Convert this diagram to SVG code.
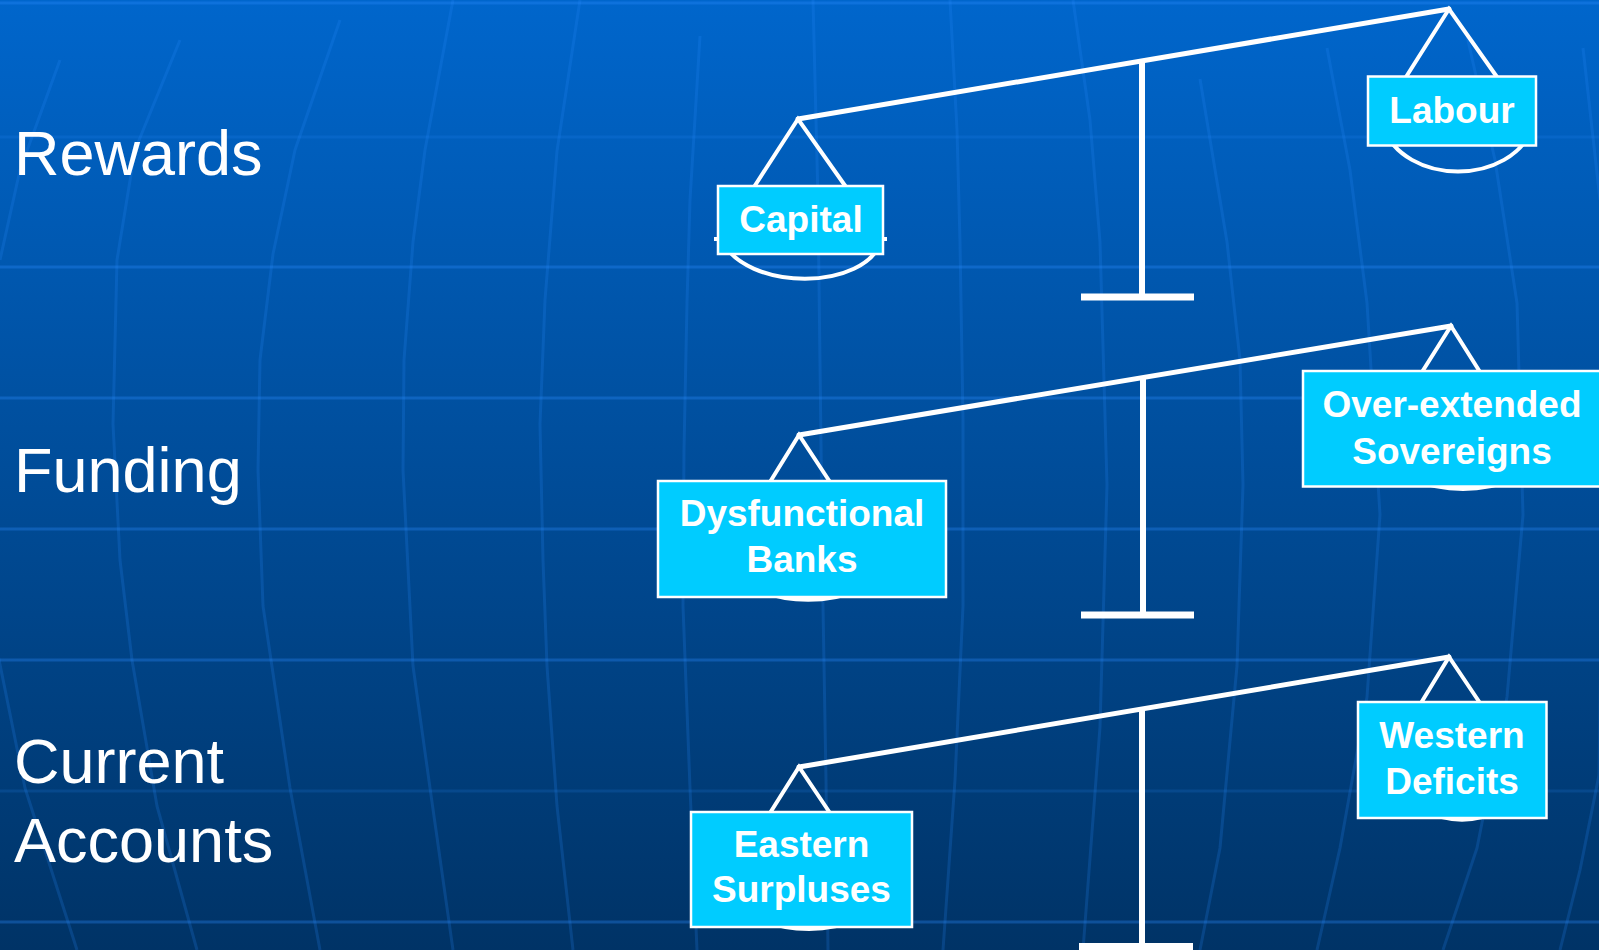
<svg xmlns="http://www.w3.org/2000/svg" width="1599" height="950" viewBox="0 0 1599 950">
  <defs>
    <linearGradient id="bg" x1="0" y1="0" x2="0" y2="1">
      <stop offset="0" stop-color="#0066CC"/>
      <stop offset="1" stop-color="#003366"/>
    </linearGradient>
  </defs>
  <style>
    .hline { stroke: #2a8cff; stroke-width: 3; opacity: 0.32; fill: none; }
    .hfaint { stroke: #2a8cff; stroke-width: 3; opacity: 0.16; fill: none; }
    .mer { stroke: #2a8cff; stroke-width: 3; opacity: 0.2; fill: none; stroke-linejoin: round; }
    .beam { stroke: #FFFFFF; stroke-width: 5; stroke-linecap: round; fill: none; }
    .str { stroke: #FFFFFF; stroke-width: 4; fill: none; stroke-linejoin: miter; }
    .stem { stroke: #FFFFFF; stroke-width: 6; fill: none; }
    .base { stroke: #FFFFFF; stroke-width: 7; fill: none; }
    .bowl { stroke: #FFFFFF; stroke-width: 4; fill: none; }
    .box { fill: #00CCFF; stroke: #FFFFFF; stroke-width: 2.5; }
    .lbl { font-family: "Liberation Sans", Arial, sans-serif; font-weight: bold; font-size: 37px; fill: #FFFFFF; text-anchor: middle; }
    .side { font-family: "Liberation Sans", Arial, sans-serif; font-size: 63px; fill: #FFFFFF; }
  </style>

  <rect x="0" y="0" width="1599" height="950" fill="url(#bg)"/>

  <g id="grid">
    <line class="hline" x1="0" y1="3" x2="1599" y2="3"/>
    <line class="hfaint" x1="0" y1="137" x2="1599" y2="137"/>
    <line class="hline" x1="0" y1="267" x2="1599" y2="267"/>
    <line class="hline" x1="0" y1="398" x2="1599" y2="398"/>
    <line class="hline" x1="0" y1="529" x2="1599" y2="529"/>
    <line class="hline" x1="0" y1="660" x2="1599" y2="660"/>
    <line class="hfaint" x1="0" y1="791" x2="1599" y2="791"/>
    <line class="hline" x1="0" y1="922" x2="1599" y2="922"/>
    <polyline class="mer" points="0,260 20,170 60,60"/>
    <polyline class="mer" points="-5,640 25,788 77,950"/>
    <polyline class="mer" points="180,40 135,150 117,260 113,424 120,560 132,660 157,806 197,950"/>
    <polyline class="mer" points="340,20 295,150 273,254 260,360 258,470 263,606 290,788 320,950"/>
    <polyline class="mer" points="453,0 425,150 413,242 404,360 403,470 413,666 430,788 453,950"/>
    <polyline class="mer" points="580,0 557,151 545,300 540,424 543,560 547,666 557,806 573,950"/>
    <polyline class="mer" points="700,36 690,200 687,303 684,450 683,606 690,788 697,950"/>
    <polyline class="mer" points="813,0 818,200 820,363 823,606 826,780 828,950"/>
    <polyline class="mer" points="950,0 957,130 960,242 963,420 963,606 955,780 943,950"/>
    <polyline class="mer" points="1073,0 1090,120 1100,242 1107,485 1100,727 1083,950"/>
    <polyline class="mer" points="1200,79 1227,242 1240,360 1243,485 1237,666 1220,848 1200,950"/>
    <polyline class="mer" points="1327,48 1350,170 1367,303 1380,515 1367,697 1340,848 1317,950"/>
    <polyline class="mer" points="1467,36 1495,160 1517,303 1523,515 1507,697 1477,848 1443,950"/>
    <polyline class="mer" points="1583,48 1600,200"/>
    <polyline class="mer" points="1602,560 1599,775 1580,870 1560,950"/>
  </g>

  <g id="stands">
    <line class="stem" x1="1142" y1="61" x2="1142" y2="297"/>
    <line class="base" x1="1081" y1="297" x2="1194" y2="297"/>
    <line class="stem" x1="1143" y1="378" x2="1143" y2="615"/>
    <line class="base" x1="1081" y1="615" x2="1194" y2="615"/>
    <line class="stem" x1="1142" y1="710" x2="1142" y2="950"/>
    <rect x="1079" y="943" width="114" height="10" fill="#FFFFFF"/>
  </g>

  <g id="bowls">
    <path class="bowl" d="M714,239 H721 C745,292 867,292 882,239 H887"/>
    <path class="bowl" d="M1382,125 C1404,187 1512,187 1534,125"/>
    <path class="bowl" d="M725,560 C750,613 866,613 892,560"/>
    <path class="bowl" d="M1380,450 C1405,502 1521,502 1546,450"/>
    <path class="bowl" d="M728,890 C752,942 866,942 890,890"/>
    <path class="bowl" d="M1400,780 C1420,833 1504,833 1524,780"/>
  </g>

  <g id="connectors">
    <line class="beam" x1="798" y1="119" x2="1449" y2="9"/>
    <polyline class="str" points="754,187 798,119 846,187"/>
    <polyline class="str" points="1406,77 1449,9 1497,77"/>
    <line class="beam" x1="799" y1="435" x2="1451" y2="326"/>
    <polyline class="str" points="770,482 799,435 830,482"/>
    <polyline class="str" points="1422,372 1451,326 1480,372"/>
    <line class="beam" x1="799" y1="767" x2="1449" y2="657"/>
    <polyline class="str" points="770,813 799,767 830,813"/>
    <polyline class="str" points="1421,703 1449,657 1480,703"/>
  </g>

  <g id="label-rewards"><text class="side" x="14" y="175">Rewards</text></g>
  <g id="label-funding"><text class="side" x="14" y="492">Funding</text></g>
  <g id="label-current-accounts">
    <text class="side" x="14" y="783">Current</text>
    <text class="side" x="14" y="862">Accounts</text>
  </g>

  <g id="node-capital">
    <rect class="box" x="718" y="186" width="165" height="68"/>
    <text class="lbl" x="801" y="232">Capital</text>
  </g>
  <g id="node-labour">
    <rect class="box" x="1368" y="76.5" width="168" height="69"/>
    <text class="lbl" x="1452" y="123">Labour</text>
  </g>
  <g id="node-dysfunctional-banks">
    <rect class="box" x="658" y="481" width="288" height="116"/>
    <text class="lbl" x="802" y="526">Dysfunctional</text>
    <text class="lbl" x="802" y="572">Banks</text>
  </g>
  <g id="node-over-extended-sovereigns">
    <rect class="box" x="1303" y="371" width="300" height="115.5"/>
    <text class="lbl" x="1452" y="417">Over-extended</text>
    <text class="lbl" x="1452" y="463.5">Sovereigns</text>
  </g>
  <g id="node-eastern-surpluses">
    <rect class="box" x="691" y="812" width="221" height="115"/>
    <text class="lbl" x="801.5" y="856.5">Eastern</text>
    <text class="lbl" x="801.5" y="901.5">Surpluses</text>
  </g>
  <g id="node-western-deficits">
    <rect class="box" x="1358" y="702" width="188.5" height="116"/>
    <text class="lbl" x="1452" y="747.5">Western</text>
    <text class="lbl" x="1452" y="794">Deficits</text>
  </g>
</svg>
